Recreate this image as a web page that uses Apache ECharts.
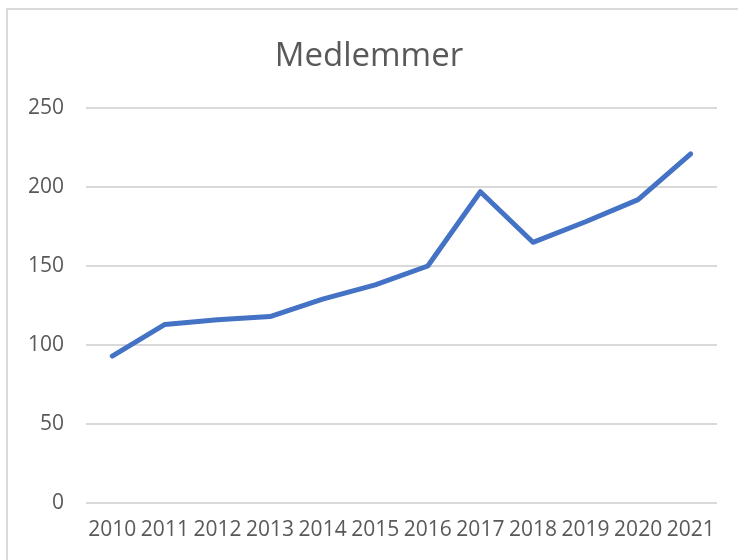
<!DOCTYPE html>
<html>
<head>
<meta charset="utf-8">
<script src="https://cdn.jsdelivr.net/npm/echarts@6/dist/echarts.min.js"></script>
<style>
html,body{margin:0;padding:0;background:#fff;}
#c{width:738px;height:560px;}
</style>
</head>
<body>
<div id="c"></div>
<script>
const years = ['2010','2011','2012','2013','2014','2015','2016','2017','2018','2019','2020','2021'];
const members = [93, 113, 116, 118, 129, 138, 150, 197, 165, 178, 192, 221];
const yTicks = { min: 0, max: 250, interval: 50 };
const titleText = 'Medlemmer';

const chart = echarts.init(document.getElementById('c'), null, {renderer: 'canvas'});
const font = '"Open Sans", sans-serif';
chart.setOption({
  animation: false,
  backgroundColor: '#fff',
  graphic: [{
    type: 'rect',
    shape: {x: 7, y: 9, width: 740, height: 560},
    style: {fill: 'none', stroke: '#d9d9d9', lineWidth: 2},
    silent: true
  }],
  title: {
    text: titleText,
    left: 'center',
    top: 35,
    textStyle: {fontFamily: font, fontSize: 33, fontWeight: 'normal', color: '#595959'}
  },
  grid: {left: 86, right: 21, top: 108, bottom: 57, containLabel: false},
  xAxis: {
    type: 'category',
    data: years,
    boundaryGap: true,
    axisLine: {show: false},
    axisTick: {show: false},
    axisLabel: {interval: 0, margin: 17, fontFamily: font, fontSize: 21, color: '#595959'}
  },
  yAxis: {
    type: 'value',
    min: yTicks.min, max: yTicks.max, interval: yTicks.interval,
    axisLine: {show: false},
    axisTick: {show: false},
    axisLabel: {margin: 22, fontFamily: font, fontSize: 21, color: '#595959'},
    splitLine: {lineStyle: {color: '#d9d9d9', width: 2}}
  },
  series: [{
    type: 'line',
    data: members,
    symbol: 'none',
    lineStyle: {color: '#4472c4', width: 5, cap: 'round', join: 'round'},
    itemStyle: {color: '#4472c4'}
  }]
});
</script>
</body>
</html>
